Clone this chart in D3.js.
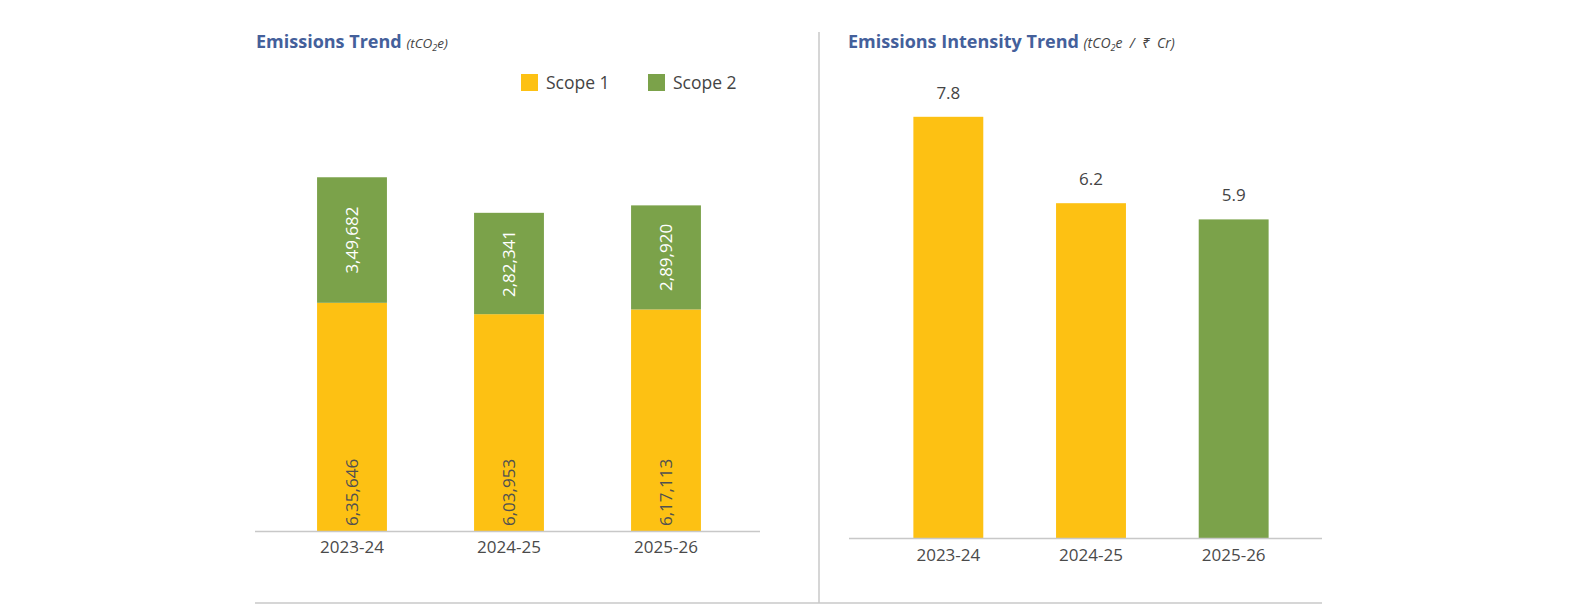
<!DOCTYPE html>
<html>
<head>
<meta charset="utf-8">
<script src="https://cdn.jsdelivr.net/npm/d3@7"></script>
<style>
  body { margin: 0; background: #fff; }
  svg text { font-family: "Open Sans", "Noto Sans", sans-serif; }
</style>
</head>
<body>
<svg id="chart" width="1580" height="616"></svg>
<script>
// data
var years = ["2023-24", "2024-25", "2025-26"];
var scope1 = [635646, 603953, 617113];
var scope2 = [349682, 282341, 289920];
var scope1Labels = ["6,35,646", "6,03,953", "6,17,113"];
var scope2Labels = ["3,49,682", "2,82,341", "2,89,920"];
var intensity = [7.8, 6.2, 5.9];
var intensityColors = ["#FDC113", "#FDC113", "#7BA24A"];

var yellow = "#FDC113", green = "#7BA24A";
var svg = d3.select("#chart");

// --- left chart: stacked bars ---
var x1 = d3.scaleBand().domain(years).range([273.5, 744.5]).paddingInner(0.555).paddingOuter(0.2775);
var y1 = d3.scaleLinear().domain([0, 1200000]).range([531, 100.2]);

var stack = d3.stack().keys(["s1", "s2"])(years.map(function(d, i) {
  return { year: d, s1: scope1[i], s2: scope2[i] };
}));

var left = svg.append("g");
left.selectAll("g.layer")
  .data(stack)
  .enter().append("g")
  .attr("fill", function(d, i) { return i == 0 ? yellow : green; })
  .selectAll("rect")
  .data(function(d) { return d; })
  .enter().append("rect")
  .attr("x", function(d) { return x1(d.data.year); })
  .attr("width", x1.bandwidth())
  .attr("y", function(d) { return y1(d[1]); })
  .attr("height", function(d) { return y1(d[0]) - y1(d[1]); });

// scope 1 labels, reading upward from the bottom
left.selectAll("text.s1")
  .data(years)
  .enter().append("text")
  .attr("transform", function(d) {
    return "translate(" + (x1(d) + x1.bandwidth() / 2 + 6) + "," + (y1(0) - 5) + ") rotate(-90)";
  })
  .attr("font-size", 17).attr("fill", "#505050")
  .text(function(d, i) { return scope1Labels[i]; });

// scope 2 labels, centred in green segment
left.selectAll("text.s2")
  .data(years)
  .enter().append("text")
  .attr("transform", function(d, i) {
    var cy = (y1(scope1[i]) + y1(scope1[i] + scope2[i])) / 2;
    return "translate(" + (x1(d) + x1.bandwidth() / 2 + 6) + "," + cy + ") rotate(-90)";
  })
  .attr("text-anchor", "middle")
  .attr("font-size", 17).attr("fill", "#fff")
  .text(function(d, i) { return scope2Labels[i]; });

left.append("line").attr("x1", 255).attr("x2", 760).attr("y1", 531.5).attr("y2", 531.5)
  .attr("stroke", "#c8c8c8").attr("stroke-width", 1.5);

var ax1 = left.append("g").attr("transform", "translate(0,531)")
  .call(d3.axisBottom(x1).tickSize(0).tickPadding(10));
ax1.select(".domain").remove();
ax1.selectAll("text").attr("font-size", 17).attr("fill", "#4a4a4a")
  .style("font-family", "'Open Sans', sans-serif");

// title
var t1 = left.append("text").attr("x", 256).attr("y", 48);
t1.append("tspan").attr("font-size", 18).attr("font-weight", "bold").attr("fill", "#44609B").text("Emissions Trend ");
t1.append("tspan").attr("font-size", 13.5).attr("font-style", "italic").attr("fill", "#444").text("(tCO");
t1.append("tspan").attr("font-size", 9).attr("font-style", "italic").attr("fill", "#444").attr("dy", 3).text("2");
t1.append("tspan").attr("font-size", 13.5).attr("font-style", "italic").attr("fill", "#444").attr("dy", -3).text("e)");

// legend
var legendItems = [{ name: "Scope 1", color: yellow, x: 521 }, { name: "Scope 2", color: green, x: 648 }];
var lg = left.selectAll("g.legend").data(legendItems).enter().append("g")
  .attr("transform", function(d) { return "translate(" + d.x + ",74)"; });
lg.append("rect").attr("width", 17).attr("height", 17).attr("fill", function(d) { return d.color; });
lg.append("text").attr("x", 25).attr("y", 15).attr("font-size", 17.5).attr("fill", "#444")
  .text(function(d) { return d.name; });

// divider and bottom rule
svg.append("line").attr("x1", 819).attr("x2", 819).attr("y1", 32).attr("y2", 603)
  .attr("stroke", "#c8c8c8").attr("stroke-width", 1.5);
svg.append("line").attr("x1", 255).attr("x2", 1322).attr("y1", 603).attr("y2", 603)
  .attr("stroke", "#c8c8c8").attr("stroke-width", 1.5);

// --- right chart: intensity ---
var x2 = d3.scaleBand().domain(years).range([877, 1305]).paddingInner(0.51).paddingOuter(0.255);
var y2 = d3.scaleLinear().domain([0, 9]).range([538, 52]);

var right = svg.append("g");
right.selectAll("rect")
  .data(intensity)
  .enter().append("rect")
  .attr("x", function(d, i) { return x2(years[i]); })
  .attr("width", x2.bandwidth())
  .attr("y", function(d) { return y2(d); })
  .attr("height", function(d) { return y2(0) - y2(d); })
  .attr("fill", function(d, i) { return intensityColors[i]; });

right.selectAll("text.val")
  .data(intensity)
  .enter().append("text")
  .attr("x", function(d, i) { return x2(years[i]) + x2.bandwidth() / 2; })
  .attr("y", function(d) { return y2(d) - 18; })
  .attr("text-anchor", "middle").attr("font-size", 17).attr("fill", "#444")
  .text(function(d) { return d3.format(".1f")(d); });

right.append("line").attr("x1", 849).attr("x2", 1322).attr("y1", 538.5).attr("y2", 538.5)
  .attr("stroke", "#c8c8c8").attr("stroke-width", 1.5);

var ax2 = right.append("g").attr("transform", "translate(0,538)")
  .call(d3.axisBottom(x2).tickSize(0).tickPadding(11));
ax2.select(".domain").remove();
ax2.selectAll("text").attr("font-size", 17).attr("fill", "#4a4a4a")
  .style("font-family", "'Open Sans', sans-serif");

var t2 = right.append("text").attr("x", 848).attr("y", 48).style("white-space", "pre");
t2.append("tspan").attr("font-size", 18).attr("font-weight", "bold").attr("fill", "#44609B").text("Emissions Intensity Trend ");
t2.append("tspan").attr("font-size", 14).attr("font-style", "italic").attr("fill", "#444").text("(tCO");
t2.append("tspan").attr("font-size", 9).attr("font-style", "italic").attr("fill", "#444").attr("dy", 3).text("2");
t2.append("tspan").attr("font-size", 14).attr("font-style", "italic").attr("fill", "#444").attr("dy", -3).text("e  /  ₹  Cr)");
</script>
</body>
</html>
